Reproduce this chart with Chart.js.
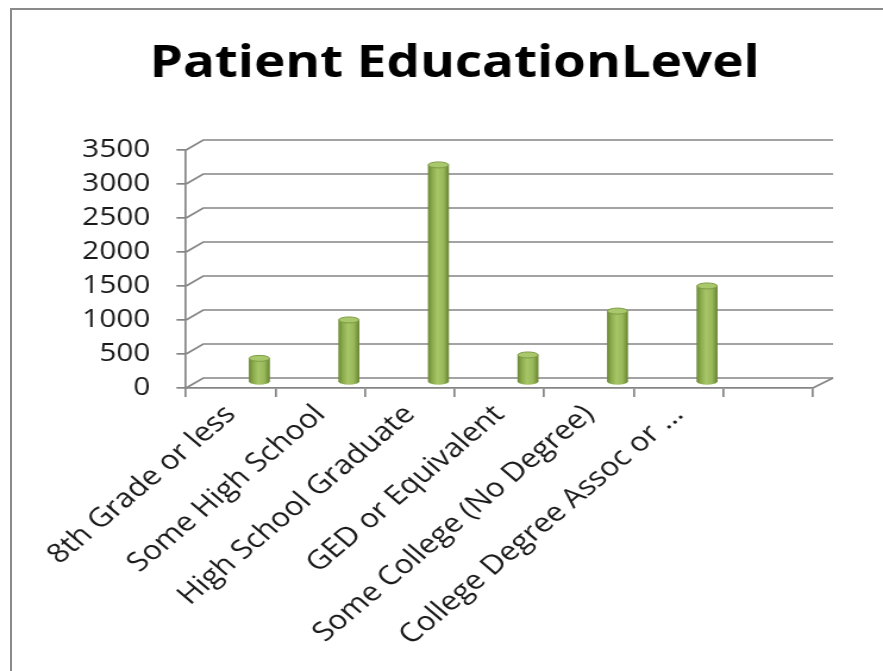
<!DOCTYPE html>
<html>
<head>
<meta charset="utf-8">
<script src="https://cdn.jsdelivr.net/npm/chart.js@4.4.1/dist/chart.umd.min.js"></script>
<style>
  html, body { margin: 0; padding: 0; background: #fff; overflow: hidden; }
  #frame {
    position: absolute; left: 10px; top: 8px; width: 900px; height: 700px;
    border-left: 2px solid #8a8a8a; border-top: 2px solid #8a8a8a;
  }
  #educationChart {
    position: absolute; left: 0; top: 0;
    transform-origin: 0 0; transform: scaleX(1.19003);
  }
</style>
</head>
<body>
<div id="frame"></div>
<canvas id="educationChart" width="742" height="671"></canvas>
<script>
// Patient education level counts
const categories = [
    '8th Grade or less',
    'Some High School',
    'High School Graduate',
    'GED or Equivalent',
    'Some College (No Degree)',
    'College Degree Assoc or ...',
    ''
];
const patientCounts = [355, 920, 3200, 405, 1050, 1420, null];
const yTickStep = 500;
const yMax = 3500;

const GRID = '#858585';
const FONT = '"Open Sans", Lato, sans-serif';
const BAR_DX = 24, BAR_DY = -5.5;   // depth offset of the bars
const WALL_DX = 14.5, WALL_DY = -10; // back wall offset

function barGradient(ctx, el) {
    const g = ctx.createLinearGradient(el.x - el.width / 2, 0, el.x + el.width / 2, 0);
    g.addColorStop(0, '#6c8934');
    g.addColorStop(0.18, '#89a94b');
    g.addColorStop(0.45, '#a6c668');
    g.addColorStop(0.75, '#98b85a');
    g.addColorStop(1, '#6a8632');
    return g;
}

const depthPlugin = {
    id: 'depth',
    beforeDatasetsDraw(chart) {
        const { ctx, chartArea: a, scales: { y } } = chart;
        ctx.save();
        ctx.strokeStyle = GRID;
        ctx.lineWidth = 1.7;
        y.ticks.forEach(t => {
            const py = y.getPixelForValue(t.value);
            ctx.beginPath();
            ctx.moveTo(a.left, py);
            ctx.lineTo(a.left + WALL_DX, py + WALL_DY);
            ctx.lineTo(a.right + WALL_DX + 2.5, py + WALL_DY);
            ctx.stroke();
        });
        ctx.beginPath();
        ctx.moveTo(a.right, a.bottom);
        ctx.lineTo(a.right + WALL_DX + 2.5, a.bottom + WALL_DY);
        ctx.stroke();
        ctx.restore();

        ctx.save();
        ctx.translate(BAR_DX, BAR_DY);
    },
    afterDatasetsDraw(chart) {
        const ctx = chart.ctx;
        chart.getDatasetMeta(0).data.forEach((el, i) => {
            if (patientCounts[i] == null || !el.width) return;
            const rx = el.width / 2, ry = 3;
            // rounded bottom
            ctx.beginPath();
            ctx.ellipse(el.x, el.base, rx, ry, 0, 0, Math.PI);
            ctx.fillStyle = barGradient(ctx, el);
            ctx.fill();
            // top cap
            ctx.beginPath();
            ctx.ellipse(el.x, el.y, rx, ry, 0, 0, Math.PI * 2);
            ctx.fillStyle = '#a9c86c';
            ctx.fill();
            ctx.strokeStyle = '#7e9c46';
            ctx.lineWidth = 1;
            ctx.stroke();
        });
        ctx.restore();
    }
};

const chart = new Chart(document.getElementById('educationChart').getContext('2d'), {
    type: 'bar',
    data: {
        labels: categories,
        datasets: [{
            label: 'Patients',
            data: patientCounts,
            backgroundColor: c => {
                const el = c.element;
                if (!el || !el.width) return '#9bbb59';
                return barGradient(c.chart.ctx, el);
            },
            borderWidth: 0,
            barThickness: 17,
            clip: false
        }]
    },
    options: {
        responsive: false,
        animation: false,
        layout: { padding: { left: 22, right: 0, top: 0, bottom: 0 } },
        plugins: {
            legend: { display: false },
            tooltip: { enabled: false },
            title: {
                display: true,
                text: 'Patient EducationLevel',
                color: '#000',
                font: { family: FONT, size: 44.5, weight: 'bold', lineHeight: 1.2 },
                padding: { top: 37.7, bottom: 58.9 }
            }
        },
        scales: {
            x: {
                offset: true,
                grid: {
                    offset: true, drawOnChartArea: false, drawTicks: true,
                    tickLength: 9, color: GRID, lineWidth: 1.7
                },
                border: { display: true, color: GRID, width: 1.7 },
                ticks: {
                    color: '#1a1a1a', autoSkip: false,
                    maxRotation: 45, minRotation: 45, padding: 2,
                    font: { family: FONT, size: 26.5 }
                },
                afterFit: s => { s.height = 671 - 388; }
            },
            y: {
                min: 0, max: yMax,
                grid: {
                    drawOnChartArea: false, drawTicks: true,
                    tickLength: 8, color: GRID, lineWidth: 1.7
                },
                border: { display: true, color: GRID, width: 1.7 },
                ticks: {
                    stepSize: yTickStep, color: '#1a1a1a', padding: 22,
                    font: { family: FONT, size: 25 },
                    callback: v => String(v)
                },
                afterFit: s => { s.width = 156.3 - 22; }
            },
            // empty space to the right of the floor, keeps the title centred
            spacer: {
                type: 'linear', position: 'right',
                ticks: { display: false },
                grid: { display: false },
                border: { display: false },
                afterFit: s => { s.width = 742 - 683; }
            }
        }
    },
    plugins: [depthPlugin]
});
chart.update();
</script>
</body>
</html>
